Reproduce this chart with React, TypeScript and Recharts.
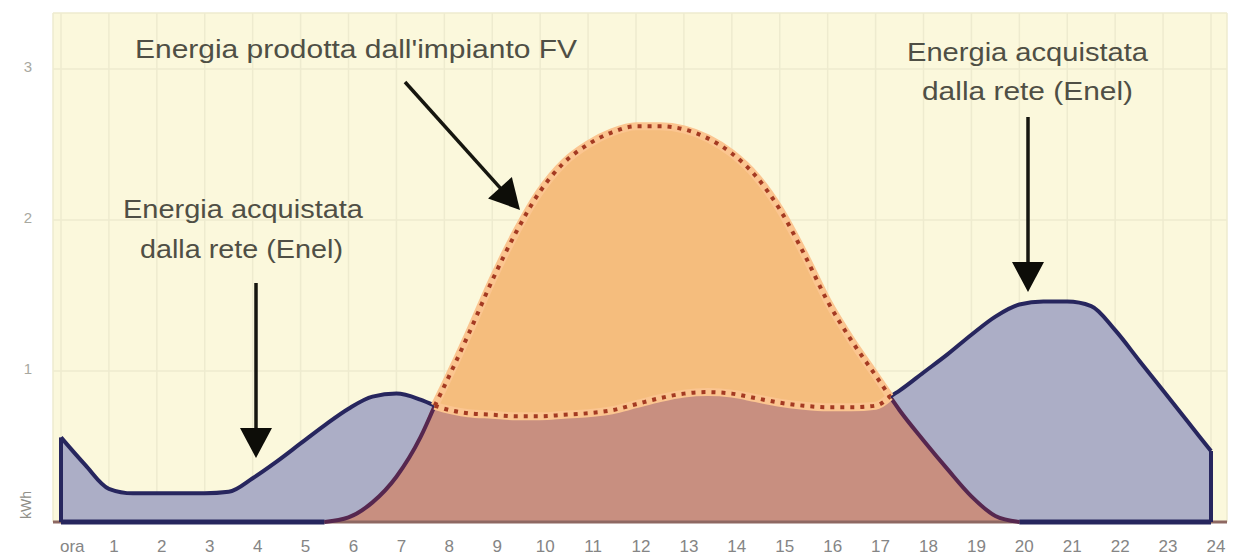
import React from "react";
import {
  Area,
  CartesianGrid,
  ComposedChart,
  Customized,
  Line,
  ReferenceLine,
  XAxis,
  YAxis,
} from "recharts";

// ore del giorno (ogni mezz'ora, più i due punti in cui FV e consumo si incrociano)
const hours = [
  0, 0.5, 1, 1.5, 2, 2.5, 3, 3.5, 4, 4.5, 5, 5.5, 6, 6.5, 7, 7.5, 7.8, 8, 8.5, 9,
  9.5, 10, 10.5, 11, 11.5, 12, 12.5, 13, 13.5, 14, 14.5, 15, 15.5, 16, 16.5, 17,
  17.3, 17.5, 18, 18.5, 19, 19.5, 20, 20.5, 21, 21.5, 22, 22.5, 23, 23.5, 24,
];

// consumo della casa (kWh)
const consumo = [
  0.56, 0.38, 0.22, 0.19, 0.19, 0.19, 0.19, 0.2, 0.29, 0.4, 0.52, 0.64, 0.75,
  0.83, 0.85, 0.81, 0.77, 0.75, 0.72, 0.71, 0.7, 0.7, 0.71, 0.72, 0.74, 0.78,
  0.82, 0.85, 0.86, 0.85, 0.82, 0.79, 0.77, 0.76, 0.76, 0.77, 0.83, 0.87, 0.99,
  1.11, 1.24, 1.36, 1.44, 1.46, 1.46, 1.43, 1.27, 1.07, 0.87, 0.67, 0.47,
];

// energia prodotta dall'impianto FV (kWh)
const produzioneFV = [
  0, 0, 0, 0, 0, 0, 0, 0, 0, 0, 0, 0, 0.03, 0.13, 0.3, 0.56, 0.77, 0.9, 1.24,
  1.6, 1.92, 2.19, 2.38, 2.5, 2.58, 2.62, 2.62, 2.6, 2.54, 2.44, 2.29, 2.07,
  1.78, 1.46, 1.2, 0.97, 0.83, 0.74, 0.54, 0.35, 0.17, 0.04, 0, 0, 0, 0, 0, 0,
  0, 0, 0,
];

const hourTicks = [
  0, 1, 2, 3, 4, 5, 6, 7, 8, 9, 10, 11, 12, 13, 14, 15, 16, 17, 18, 19, 20, 21,
  22, 23, 24,
];
const hourLabels = [
  "ora", "1", "2", "3", "4", "5", "6", "7", "8", "9", "10", "11", "12", "13",
  "14", "15", "16", "17", "18", "19", "20", "21", "22", "23", "24",
];
const kwhTicks = [1, 2, 3];

const NAVY = "#27265e";
const PLUM = "#56274f";
const DOT_RED = "#a43a22";
const HALO = "#fbc590";
const FONT = "'Liberation Sans', Arial, sans-serif";

// dove la produzione supera (o eguaglia) il consumo
const sopra = hours.map((_, i) => produzioneFV[i] >= consumo[i]);

const data = hours.map((h, i) => {
  const c = consumo[i];
  const p = produzioneFV[i];
  const inside = sopra[i];
  // punto interno alla zona di cessione (non sul bordo)
  const pieno = inside && !!sopra[i - 1] && !!sopra[i + 1];
  const fvAttivo =
    p > 0 || (i > 0 && produzioneFV[i - 1] > 0) || (i < hours.length - 1 && produzioneFV[i + 1] > 0);
  return {
    h,
    consumo: c,
    fv: p,
    auto: Math.min(c, p),
    consumoOut: pieno ? null : c,
    consumoIn: inside ? c : null,
    fvOut: fvAttivo && !pieno ? p : null,
    fvIn: inside ? p : null,
    base: p === 0 ? 0 : null,
  };
});

const HourTick = (props: any) => {
  const { x, y, payload } = props;
  const idx = hourTicks.indexOf(payload.value);
  const first = payload.value === 0;
  return (
    <text
      x={first ? x - 1 : x + 5}
      y={y + 30}
      textAnchor={first ? "start" : "middle"}
      fill="#858585"
      fontSize={17}
      fontFamily={FONT}
    >
      {hourLabels[idx]}
    </text>
  );
};

const KwhTick = (props: any) => {
  const { y, payload } = props;
  return (
    <text x={28} y={y + 3} textAnchor="middle" fill="#a8a8a0" fontSize={15} fontFamily={FONT}>
      {payload.value}
    </text>
  );
};

function Arrow({ x1, y1, x2, y2 }: { x1: number; y1: number; x2: number; y2: number }) {
  const len = Math.hypot(x2 - x1, y2 - y1);
  const ux = (x2 - x1) / len;
  const uy = (y2 - y1) / len;
  const hl = 30;
  const hw = 16;
  const bx = x2 - ux * hl;
  const by = y2 - uy * hl;
  const pts = `${x2},${y2} ${bx - uy * hw},${by + ux * hw} ${bx + uy * hw},${by - ux * hw}`;
  return (
    <g>
      <line x1={x1} y1={y1} x2={bx + ux * 2} y2={by + uy * 2} stroke="#16160f" strokeWidth={3.5} />
      <polygon points={pts} fill="#0d0d08" />
    </g>
  );
}

const Note = ({ x, y, w, size, fill, children }: any) => (
  <text
    x={x}
    y={y}
    fontSize={size}
    fill={fill}
    fontFamily={FONT}
    textLength={w}
    lengthAdjust="spacingAndGlyphs"
  >
    {children}
  </text>
);

const Annotations = () => (
  <g>
    <Note x={135} y={58} w={442} size={26} fill="#4f4f45">
      Energia prodotta dall'impianto FV
    </Note>
    <Arrow x1={405} y1={82} x2={520} y2={210} />

    <Note x={123} y={218} w={240} size={26} fill="#4f4f45">
      Energia acquistata
    </Note>
    <Note x={140} y={258} w={203} size={26} fill="#4f4f45">
      dalla rete (Enel)
    </Note>
    <Arrow x1={256} y1={283} x2={256} y2={458} />

    <Note x={907} y={61} w={241} size={26} fill="#4f4f45">
      Energia acquistata
    </Note>
    <Note x={922} y={100} w={211} size={26} fill="#4f4f45">
      dalla rete (Enel)
    </Note>
    <Arrow x1={1028} y1={117} x2={1028} y2={292} />

    <Note x={540} y={310} w={233} size={28} fill="#4a2f16">
      CESSIONE ALLA
    </Note>
    <Note x={568} y={353} w={177} size={28} fill="#4a2f16">
      RETE (ENEL)
    </Note>
    <Note x={528} y={487} w={260} size={28} fill="#4a2a18">
      AUTOCONSUMO
    </Note>

    <text
      x={31}
      y={505}
      transform="rotate(-90 31 505)"
      textAnchor="middle"
      fontSize={14}
      fill="#8f8f88"
      fontFamily={FONT}
    >
      kWh
    </text>
  </g>
);

export default function App() {
  const first = consumo[0];
  const last = consumo[consumo.length - 1];
  return (
    <div style={{ position: "absolute", left: 0, top: 0, width: 1242, height: 559, background: "#ffffff" }}>
      <ComposedChart width={1242} height={559} data={data} margin={{ top: 13, right: 15, bottom: 0, left: 0 }}>
        <CartesianGrid fill="#fbf8dc" stroke="#eeebcf" strokeWidth={1.5} />
        <XAxis
          type="number"
          dataKey="h"
          domain={[0, 24]}
          ticks={hourTicks}
          interval={0}
          height={37}
          padding={{ left: 8, right: 16 }}
          axisLine={false}
          tickLine={false}
          tickSize={0}
          tickMargin={0}
          tick={<HourTick />}
        />
        <YAxis
          type="number"
          domain={[0, 3.37]}
          ticks={kwhTicks}
          width={53}
          axisLine={false}
          tickLine={false}
          tickSize={0}
          tickMargin={0}
          tick={<KwhTick />}
        />

        <Area type="monotone" dataKey="consumo" fill="#acaec6" fillOpacity={1} stroke="none" dot={false} activeDot={false} isAnimationActive={false} />
        <Area type="monotone" dataKey="fv" fill="#f5bd7d" fillOpacity={1} stroke="none" dot={false} activeDot={false} isAnimationActive={false} />
        <Area type="monotone" dataKey="auto" fill="#c88f80" fillOpacity={1} stroke="none" dot={false} activeDot={false} isAnimationActive={false} />

        <ReferenceLine y={0} stroke="#8e6862" strokeWidth={3} />
        <ReferenceLine segment={[{ x: 0, y: 0 }, { x: 0, y: first }]} stroke={NAVY} strokeWidth={4} />
        <ReferenceLine segment={[{ x: 24, y: 0 }, { x: 24, y: last }]} stroke={NAVY} strokeWidth={4} />

        <Line type="linear" dataKey="base" stroke={NAVY} strokeWidth={5} dot={false} activeDot={false} isAnimationActive={false} />
        <Line type="monotone" dataKey="fvOut" stroke={PLUM} strokeWidth={4} dot={false} activeDot={false} isAnimationActive={false} />
        <Line type="monotone" dataKey="consumoOut" stroke={NAVY} strokeWidth={4} dot={false} activeDot={false} isAnimationActive={false} />

        <Line type="monotone" dataKey="consumoIn" stroke={HALO} strokeWidth={8} dot={false} activeDot={false} isAnimationActive={false} />
        <Line type="monotone" dataKey="fvIn" stroke={HALO} strokeWidth={8} dot={false} activeDot={false} isAnimationActive={false} />
        <Line type="monotone" dataKey="consumoIn" stroke={DOT_RED} strokeWidth={4} strokeDasharray="4 6" dot={false} activeDot={false} isAnimationActive={false} />
        <Line type="monotone" dataKey="fvIn" stroke={DOT_RED} strokeWidth={4} strokeDasharray="4 6" dot={false} activeDot={false} isAnimationActive={false} />

        <Customized component={Annotations} />
      </ComposedChart>
    </div>
  );
}
